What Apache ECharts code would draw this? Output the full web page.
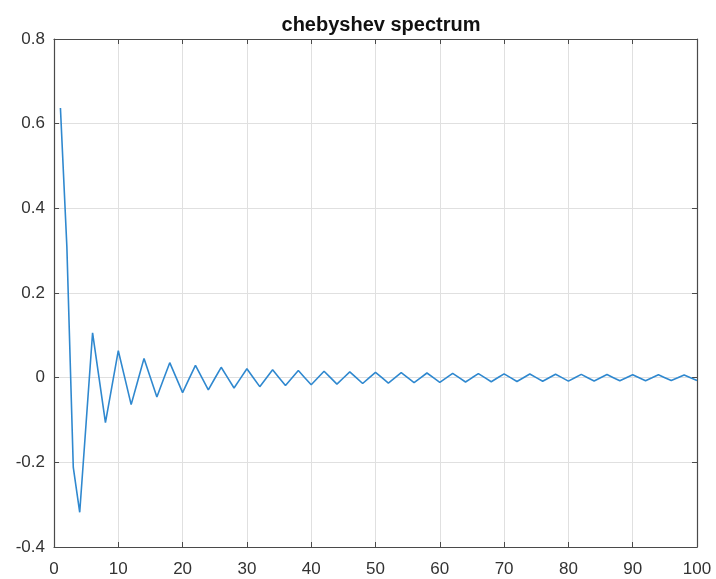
<!DOCTYPE html>
<html>
<head>
<meta charset="utf-8">
<script src="https://cdn.jsdelivr.net/npm/echarts@6/dist/echarts.min.js"></script>
<style>html,body{margin:0;padding:0;background:#fff}#c{width:716px;height:579px}</style>
</head>
<body>
<div id="c"></div>
<script>
const chartTitle = 'chebyshev spectrum';
const xTicks = [0,10,20,30,40,50,60,70,80,90,100];
const yTicks = [-0.4,-0.2,0,0.2,0.4,0.6,0.8];
// index 1..100
const indices = [];
for (let i = 1; i <= 100; i++) indices.push(i);
const coeffs = [
  0.637, 0.31, -0.212, -0.318, -0.106, 0.106, 0.0, -0.106, -0.021, 0.0637,
  0.0, -0.0637, -0.009, 0.0455, 0.0, -0.0455, -0.005, 0.0354, 0.0, -0.0354,
  -0.003, 0.0289, 0.0, -0.0289, -0.002, 0.0245, 0.0, -0.0245, -0.0017, 0.0212,
  0.0, -0.0212, -0.0013, 0.0187, 0.0, -0.0187, -0.001, 0.0168, 0.0, -0.0168,
  -0.0008, 0.0152, 0.0, -0.0152, -0.0007, 0.0138, 0.0, -0.0138, -0.0006, 0.0127,
  0.0, -0.0127, -0.0005, 0.0118, 0.0, -0.0118, -0.0004, 0.0110, 0.0, -0.0110,
  -0.0004, 0.0103, 0.0, -0.0103, -0.0003, 0.0096, 0.0, -0.0096, -0.0003, 0.0091,
  0.0, -0.0091, -0.0003, 0.0086, 0.0, -0.0086, -0.0002, 0.0082, 0.0, -0.0082,
  -0.0002, 0.0078, 0.0, -0.0078, -0.0002, 0.0074, 0.0, -0.0074, -0.0002, 0.0071,
  0.0, -0.0071, -0.0002, 0.0068, 0.0, -0.0068, -0.0002, 0.0065, 0.0, -0.0065
];

const seriesData = indices.map((x, i) => [x, coeffs[i]]);

const axisColor = '#4a4a4a';
const labelColor = '#333333';
const font = '"Liberation Sans", Arial, sans-serif';

const chart = echarts.init(document.getElementById('c'), null, {renderer: 'canvas'});
chart.setOption({
  animation: false,
  backgroundColor: '#fff',
  title: {
    text: chartTitle,
    left: 376,
    top: 10,
    textAlign: 'center',
    textStyle: {fontFamily: font, fontSize: 20, fontWeight: 'bold', color: '#111'}
  },
  grid: {left: 54, right: 19, top: 39, bottom: 32, containLabel: false},
  xAxis: [{
    type: 'value', position: 'bottom', min: xTicks[0], max: xTicks[xTicks.length-1], interval: 10,
    axisLine: {show: true, onZero: false, lineStyle: {color: axisColor, width: 1.2}},
    axisTick: {show: true, inside: true, length: 5, lineStyle: {color: axisColor}},
    axisLabel: {color: labelColor, fontFamily: font, fontSize: 17, margin: 14},
    splitLine: {show: true, lineStyle: {color: '#e0e0e0', width: 1}}
  }, {
    type: 'value', position: 'top', min: xTicks[0], max: xTicks[xTicks.length-1], interval: 10,
    axisLine: {show: true, onZero: false, lineStyle: {color: axisColor, width: 1.2}},
    axisTick: {show: true, inside: true, length: 5, lineStyle: {color: axisColor}},
    axisLabel: {show: false},
    splitLine: {show: false}
  }],
  yAxis: [{
    type: 'value', position: 'left', min: yTicks[0], max: yTicks[yTicks.length-1], interval: 0.2,
    axisLine: {show: true, onZero: false, lineStyle: {color: axisColor, width: 1.2}},
    axisTick: {show: true, inside: true, length: 5, lineStyle: {color: axisColor}},
    axisLabel: {color: labelColor, fontFamily: font, fontSize: 17, margin: 9, padding: [5, 0, 0, 0],
      formatter: v => (Math.abs(v) < 1e-9 ? '0' : (Math.round(v*10)/10).toString())},
    splitLine: {show: true, lineStyle: {color: '#e0e0e0', width: 1}}
  }, {
    type: 'value', position: 'right', min: yTicks[0], max: yTicks[yTicks.length-1], interval: 0.2,
    axisLine: {show: true, onZero: false, lineStyle: {color: axisColor, width: 1.2}},
    axisTick: {show: true, inside: true, length: 5, lineStyle: {color: axisColor}},
    axisLabel: {show: false},
    splitLine: {show: false}
  }],
  series: [{
    type: 'line',
    xAxisIndex: 0,
    yAxisIndex: 0,
    data: seriesData,
    showSymbol: false,
    lineStyle: {color: '#2f88cf', width: 1.6},
    z: 5
  }]
});
</script>
</body>
</html>
